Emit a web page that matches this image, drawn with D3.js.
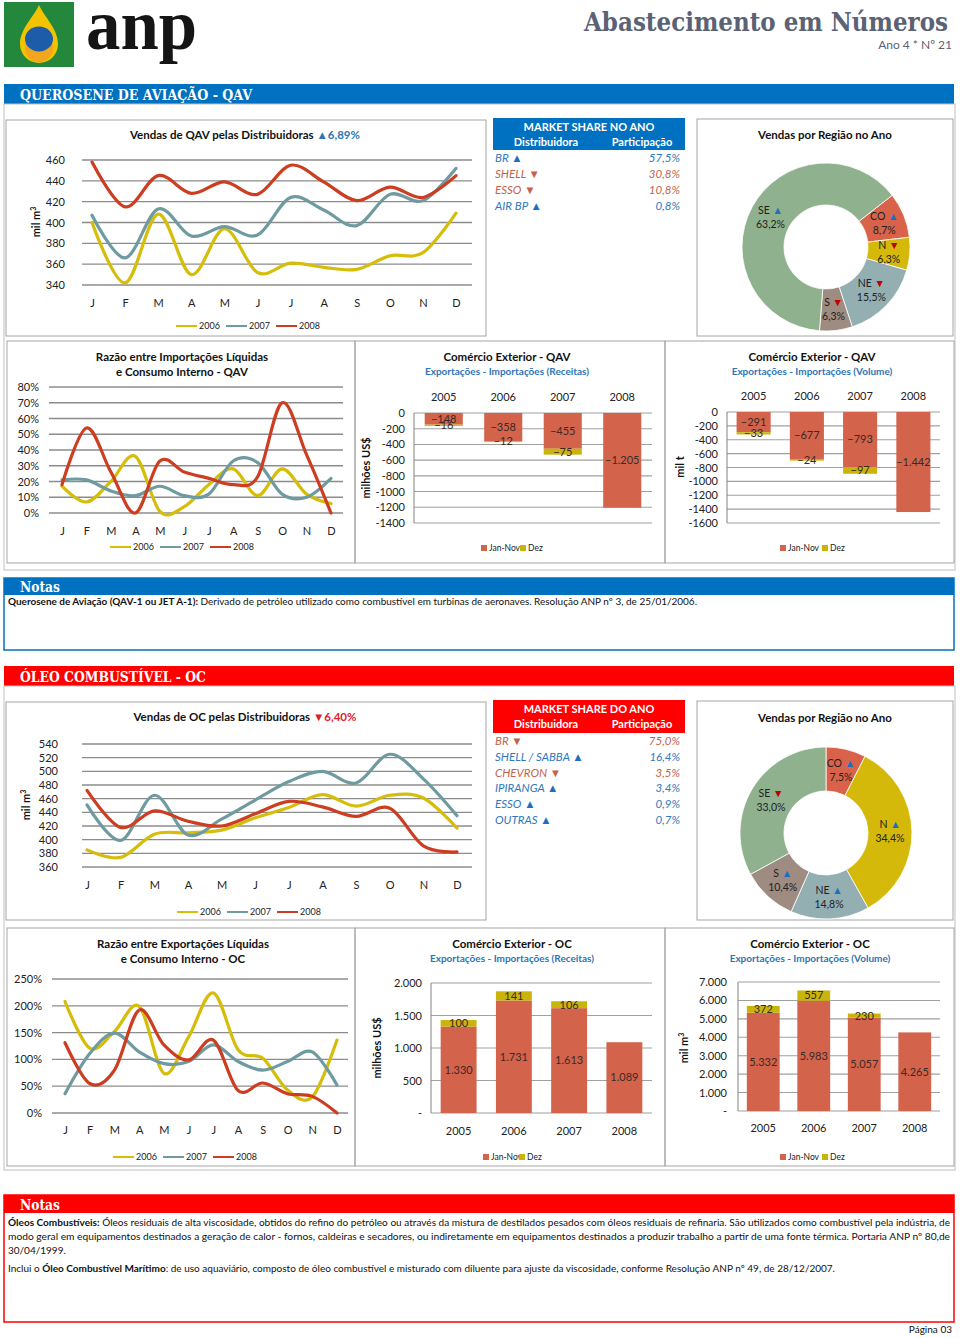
<!DOCTYPE html>
<html><head><meta charset="utf-8">
<script src="https://cdn.jsdelivr.net/npm/d3@7"></script>
<style>body{margin:0;background:#fff;}</style>
</head><body>
<svg id="c" width="960" height="1338" xmlns="http://www.w3.org/2000/svg"></svg>
<script>
// ---------------- DATA ----------------
const months = ["J","F","M","A","M","J","J","A","S","O","N","D"];
const seriesYears = ["2006","2007","2008"];
const barYearsQAV = ["2005","2006","2007","2008"];
const barYearsOC = ["2005","2006","2007","2008"];

// QAV sales (mil m3)
const qavSales2006 = [400,342,408,350,394,352,361,357,355,368,371,409];
const qavSales2007 = [407,366,413,387,396,388,424,412,397,427,421,452];
const qavSales2008 = [458,415,445,428,439,427,455,439,421,434,424,445];
const qavSalesTicks = [340,360,380,400,420,440,460];
const qavSalesTickLabels = ["340","360","380","400","420","440","460"];

// QAV market share
const qavShareNames = ["BR","SHELL","ESSO","AIR BP"];
const qavShareValues = ["57,5%","30,8%","10,8%","0,8%"];
const qavShareTrend = ["up","down","down","up"];

// QAV regions
const qavRegions = ["CO","N","NE","S","SE"];
const qavRegionShare = [8.7,6.3,15.5,6.3,63.2];
const qavRegionLabels = ["8,7%","6,3%","15,5%","6,3%","63,2%"];
const qavRegionTrend = ["up","down","down","down","up"];

// QAV ratio imports / consumption (%)
const qavRatio2006 = [17,7,20,36,1,4,18,28,11,28,12,6];
const qavRatio2007 = [21,21,14,11,17,11,12,33,32,12,10,22];
const qavRatio2008 = [18,54,26,0,33,26,22,18,23,70,37,0];
const qavRatioTicks = [0,10,20,30,40,50,60,70,80];
const qavRatioTickLabels = ["0%","10%","20%","30%","40%","50%","60%","70%","80%"];

// QAV foreign trade
const qavRevJanNov = [-148,-358,-455,-1205];
const qavRevDez = [-16,-12,-75,null];
const qavRevTicks = [0,-200,-400,-600,-800,-1000,-1200,-1400];
const qavRevTickLabels = ["0","-200","-400","-600","-800","-1000","-1200","-1400"];
const qavVolJanNov = [-291,-677,-793,-1442];
const qavVolDez = [-33,-24,-97,null];
const qavVolTicks = [0,-200,-400,-600,-800,-1000,-1200,-1400,-1600];
const qavVolTickLabels = ["0","-200","-400","-600","-800","-1000","-1200","-1400","-1600"];

// OC sales
const ocSales2006 = [385,374,408,410,414,432,447,466,449,465,461,417];
const ocSales2007 = [451,399,465,407,430,458,485,500,483,525,489,435];
const ocSales2008 = [472,418,442,427,420,438,456,448,434,446,391,382];
const ocSalesTicks = [360,380,400,420,440,460,480,500,520,540];
const ocSalesTickLabels = ["360","380","400","420","440","460","480","500","520","540"];

// OC market share
const ocShareNames = ["BR","SHELL / SABBA","CHEVRON","IPIRANGA","ESSO","OUTRAS"];
const ocShareValues = ["75,0%","16,4%","3,5%","3,4%","0,9%","0,7%"];
const ocShareTrend = ["down","up","down","up","up","up"];

// OC regions
const ocRegions = ["CO","N","NE","S","SE"];
const ocRegionShare = [7.5,34.4,14.8,10.4,33.0];
const ocRegionLabels = ["7,5%","34,4%","14,8%","10,4%","33,0%"];
const ocRegionTrend = ["up","up","up","up","down"];

// OC ratio exports / consumption (%)
const ocRatio2006 = [208,121,152,199,74,142,224,118,102,43,30,136];
const ocRatio2007 = [36,111,149,114,92,96,127,96,80,96,114,52];
const ocRatio2008 = [131,55,80,192,127,99,136,42,56,36,31,0];
const ocRatioTicks = [0,50,100,150,200,250];
const ocRatioTickLabels = ["0%","50%","100%","150%","200%","250%"];

// OC foreign trade
const ocRevJanNov = [1330,1731,1613,1089];
const ocRevDez = [100,141,106,null];
const ocRevTicks = [0,500,1000,1500,2000];
const ocRevTickLabels = ["-","500","1.000","1.500","2.000"];
const ocVolJanNov = [5332,5983,5057,4265];
const ocVolDez = [372,557,230,null];
const ocVolTicks = [0,1000,2000,3000,4000,5000,6000,7000];
const ocVolTickLabels = ["-","1.000","2.000","3.000","4.000","5.000","6.000","7.000"];

// ---------------- STYLE ----------------
const F = "Lato, 'Open Sans', sans-serif";
const SERIF = "'DejaVu Serif Condensed', 'Liberation Serif', serif";
const C06 = "#d5bd0a", C07 = "#6f9ba0", C08 = "#cc3d21";
const CJAN = "#d3634b", CDEZ = "#c9b40a";
const BLUE = "#0070c0", RED = "#ff0000";
const UPC = "#1f6fc0", DNC = "#c00000";
const regionColors = {SE:"#8fb18d", CO:"#d9634a", N:"#d4b90a", NE:"#93afb2", S:"#9e8b81"};
const nf = d3.formatLocale({decimal:",", thousands:".", grouping:[3], currency:["",""]}).format(",d");

const svg = d3.select("#c");
svg.append("rect").attr("width",960).attr("height",1338).attr("fill","#fff");

// ---------------- HEADER ----------------
const logo = svg.append("g");
logo.append("rect").attr("x",4).attr("y",2).attr("width",70).attr("height",65).attr("fill","#23883c");
logo.append("path").attr("d","M39,5 C45,18 58,29 58,44 A19,19 0 1 1 20,44 C20,29 33,18 39,5 Z").attr("fill","#f3c300");
logo.append("circle").attr("cx",39).attr("cy",48).attr("r",14).attr("fill","#f2a51d");
logo.append("ellipse").attr("cx",39).attr("cy",39).attr("rx",14).attr("ry",12.5).attr("fill","#1d5ca8");
svg.append("text").attr("x",86).attr("y",49).attr("font-family","'Liberation Serif', serif").attr("font-size",72)
  .attr("font-weight","bold").attr("textLength",111).attr("lengthAdjust","spacingAndGlyphs").attr("fill","#151515").text("anp");
svg.append("text").attr("x",948).attr("y",31).attr("text-anchor","end").attr("font-family",SERIF).attr("font-size",26)
  .attr("font-weight","bold").attr("textLength",364).attr("lengthAdjust","spacingAndGlyphs").attr("fill","#5b6275").text("Abastecimento em Números");
svg.append("text").attr("x",952).attr("y",49).attr("text-anchor","end").attr("font-family",F).attr("font-size",12)
  .attr("fill","#5b6275").text("Ano 4 * Nº 21");

function band(y,h,fill,label,len){
  svg.append("rect").attr("x",4).attr("y",y).attr("width",950).attr("height",h).attr("fill",fill);
  svg.append("text").attr("x",20).attr("y",y+h-4).attr("fill","#fff").attr("font-family",SERIF).attr("font-size",15)
    .attr("font-weight","bold").attr("textLength",len).attr("lengthAdjust","spacingAndGlyphs").text(label);
}
function frame(x,y,w,h,stroke,sw){
  svg.append("rect").attr("x",x).attr("y",y).attr("width",w).attr("height",h).attr("fill","none")
    .attr("stroke",stroke||"#a6a6a6").attr("stroke-width",sw||1);
}

// ---------------- GENERIC CHARTS ----------------
function tri(sel, trend){
  sel.append("tspan").attr("fill", trend==="up"?UPC:DNC).text(trend==="up"?" ▲":" ▼");
}
function lineChart(o){
  const g = svg.append("g");
  const x = d3.scalePoint().domain(d3.range(months.length)).range(o.xr);
  const y = d3.scaleLinear().domain(o.domain).range(o.yr);
  g.selectAll(".grid").data(o.ticks).join("line")
    .attr("x1",o.gx[0]).attr("x2",o.gx[1]).attr("y1",d=>y(d)).attr("y2",d=>y(d))
    .attr("stroke","#8c8c8c").attr("stroke-width",1.3);
  const ya = g.append("g").attr("transform",`translate(${o.labelX},0)`)
    .call(d3.axisLeft(y).tickValues(o.ticks).tickSize(0).tickPadding(0).tickFormat((d,i)=>o.tickLabels[i]));
  ya.select(".domain").remove();
  ya.attr("font-family",F).attr("font-size",11);
  ya.selectAll("text").attr("fill","#222");
  const xa = g.append("g").attr("transform",`translate(0,${o.monthY})`)
    .call(d3.axisBottom(x).tickSize(0).tickPadding(0).tickFormat(i=>months[i]));
  xa.select(".domain").remove();
  xa.attr("font-family",F).attr("font-size",11);
  xa.selectAll("text").attr("fill","#222").attr("dy","0.35em");
  const line = d3.line().x((d,i)=>x(i)).y(d=>y(d)).curve(d3.curveCardinal.tension(0));
  o.series.forEach(s=>{
    g.append("path").attr("d",line(s.values)).attr("fill","none").attr("stroke",s.color)
      .attr("stroke-width",3.2).attr("stroke-linecap","round").attr("stroke-linejoin","round");
  });
  o.series.forEach((s,i)=>{
    const lx = o.legend[0] + i*50;
    g.append("line").attr("x1",lx).attr("x2",lx+21).attr("y1",o.legend[1]).attr("y2",o.legend[1])
      .attr("stroke",s.color).attr("stroke-width",2);
    g.append("text").attr("x",lx+23).attr("y",o.legend[1]).attr("dy","0.35em").attr("font-family",F)
      .attr("font-size",9).attr("fill","#222").text(s.name);
  });
  o.title.forEach((t,i)=>{
    const tt = g.append("text").attr("x",o.titleX).attr("y",o.titleY+i*15).attr("text-anchor","middle")
      .attr("font-family",F).attr("font-size",11.5).attr("font-weight","bold").attr("fill","#111").text(t);
    if(i===0 && o.titleTrend){
      tt.append("tspan").attr("fill",o.titleTrend.color).text(" " + o.titleTrend.text);
    }
  });
  if(o.yLabel){
    g.append("text").attr("transform",`translate(${o.yLabel[0]},${o.yLabel[1]}) rotate(-90)`).attr("text-anchor","middle")
      .attr("dy","0.35em").attr("font-family",F).attr("font-size",11).attr("font-weight","bold").attr("fill","#111")
      .html(o.yLabel[2]);
  }
}

function barChart(o){
  const g = svg.append("g");
  const x = d3.scaleBand().domain(o.years).range(o.xr).paddingInner(o.pad).paddingOuter(o.pad/2);
  const y = d3.scaleLinear().domain(o.domain).range(o.yr);
  g.selectAll(".grid").data(o.ticks).join("line")
    .attr("x1",o.xr[0]).attr("x2",o.xr[1]).attr("y1",d=>y(d)).attr("y2",d=>y(d))
    .attr("stroke","#a0a0a0").attr("stroke-width",1.1);
  g.append("line").attr("x1",o.xr[0]).attr("x2",o.xr[0]).attr("y1",y(o.domain[0])).attr("y2",y(o.domain[1]))
    .attr("stroke","#8c8c8c").attr("stroke-width",1.1);
  const ya = g.append("g").attr("transform",`translate(${o.labelX},0)`)
    .call(d3.axisLeft(y).tickValues(o.ticks).tickSize(0).tickPadding(0).tickFormat((d,i)=>o.tickLabels[i]));
  ya.select(".domain").remove();
  ya.attr("font-family",F).attr("font-size",11);
  ya.selectAll("text").attr("fill","#222");
  const xa = g.append("g").attr("transform",`translate(0,${o.yearY})`)
    .call(d3.axisBottom(x).tickSize(0).tickPadding(0));
  xa.select(".domain").remove();
  xa.attr("font-family",F).attr("font-size",11);
  xa.selectAll("text").attr("fill","#222").attr("dy","0.35em");
  const rows = o.years.map((yr,i)=>({year:yr, janNov:o.janNov[i], dez:o.dez[i]===null?0:o.dez[i], hasDez:o.dez[i]!==null}));
  const st = d3.stack().keys(["janNov","dez"]).offset(d3.stackOffsetDiverging)(rows);
  const cols = [CJAN, CDEZ];
  st.forEach((layer,li)=>{
    g.selectAll(null).data(layer.filter(d=>d[1]!==d[0])).join("rect")
      .attr("x",d=>x(d.data.year)).attr("width",x.bandwidth())
      .attr("y",d=>Math.min(y(d[0]),y(d[1]))).attr("height",d=>Math.abs(y(d[0])-y(d[1])))
      .attr("fill",cols[li]);
  });
  st.forEach((layer,li)=>{
    g.selectAll(null).data(layer.filter(d=>li===0 || d.data.hasDez)).join("text")
      .attr("x",d=>x(d.data.year)+x.bandwidth()/2).attr("y",d=>(y(d[0])+y(d[1]))/2).attr("dy","0.35em")
      .attr("text-anchor","middle").attr("font-family",F).attr("font-size",11).attr("fill","#3b2a25")
      .text(d=>nf(li===0?d.data.janNov:d.data.dez));
  });
  g.append("text").attr("x",o.titleX).attr("y",o.titleY).attr("text-anchor","middle").attr("font-family",F)
    .attr("font-size",11.5).attr("font-weight","bold").attr("fill","#111").text(o.title);
  g.append("text").attr("x",o.titleX).attr("y",o.titleY+14).attr("text-anchor","middle").attr("font-family",F)
    .attr("font-size",10).attr("font-weight","bold").attr("fill","#2e75b6").text(o.subtitle);
  g.append("text").attr("transform",`translate(${o.yLabel[0]},${o.yLabel[1]}) rotate(-90)`).attr("text-anchor","middle")
    .attr("dy","0.35em").attr("font-family",F).attr("font-size",11).attr("font-weight","bold").attr("fill","#111")
    .html(o.yLabel[2]);
  [["Jan-Nov",CJAN,0],["Dez",CDEZ,o.legend[2]]].forEach(([t,c,dx])=>{
    g.append("rect").attr("x",o.legend[0]+dx).attr("y",o.legend[1]-3).attr("width",6).attr("height",6).attr("fill",c);
    g.append("text").attr("x",o.legend[0]+dx+8).attr("y",o.legend[1]).attr("dy","0.35em").attr("font-family",F)
      .attr("font-size",8.5).attr("fill","#222").text(t);
  });
}

function shareTable(o){
  const g = svg.append("g");
  g.append("rect").attr("x",493).attr("y",o.y).attr("width",192).attr("height",o.h).attr("fill",o.fill);
  g.append("text").attr("x",589).attr("y",o.y+13).attr("text-anchor","middle").attr("font-family",F).attr("font-size",11)
    .attr("font-weight","bold").attr("fill","#fff").text(o.title);
  g.append("text").attr("x",546).attr("y",o.y+28).attr("text-anchor","middle").attr("font-family",F).attr("font-size",11)
    .attr("font-weight","bold").attr("fill","#fff").text("Distribuidora");
  g.append("text").attr("x",642).attr("y",o.y+28).attr("text-anchor","middle").attr("font-family",F).attr("font-size",11)
    .attr("font-weight","bold").attr("fill","#fff").text("Participação");
  o.names.forEach((n,i)=>{
    const col = o.trend[i]==="up" ? "#2f78bd" : "#c4634d";
    const yy = o.rowY + i*o.step;
    const t = g.append("text").attr("x",495).attr("y",yy).attr("font-family",F).attr("font-size",11.5)
      .attr("font-style","italic").attr("fill",col).text(n + " ");
    t.append("tspan").attr("font-style","normal").attr("fill", o.trend[i]==="up"?"#1f6fc0":"#c4634d").text(o.trend[i]==="up"?"▲":"▼");
    g.append("text").attr("x",680).attr("y",yy).attr("text-anchor","end").attr("font-family",F).attr("font-size",11.5)
      .attr("font-style","italic").attr("fill",col).text(o.values[i]);
  });
}

function donut(o){
  const g = svg.append("g").attr("transform",`translate(${o.cx},${o.cy})`);
  const data = o.regions.map((r,i)=>({r, v:o.values[i], label:o.labels[i], trend:o.trend[i]}));
  const pie = d3.pie().sort(null).value(d=>d.v).startAngle(o.start*Math.PI/180).endAngle(o.start*Math.PI/180+2*Math.PI);
  const arc = d3.arc().innerRadius(o.ir).outerRadius(o.r);
  const arcs = pie(data);
  g.selectAll("path").data(arcs).join("path").attr("d",arc).attr("fill",d=>regionColors[d.data.r])
    .attr("stroke","#fff").attr("stroke-width",0.8);
  arcs.forEach(d=>{
    const [lx,ly] = arc.centroid(d);
    const t = g.append("text").attr("x",lx).attr("y",ly-7).attr("dy","0.35em").attr("text-anchor","middle")
      .attr("font-family",F).attr("font-size",10.5).attr("fill","#222").text(d.data.r);
    tri(t, d.data.trend);
    g.append("text").attr("x",lx).attr("y",ly+7).attr("dy","0.35em").attr("text-anchor","middle")
      .attr("font-family",F).attr("font-size",10.5).attr("fill","#222").text(d.data.label);
  });
  svg.append("text").attr("x",o.cx-1).attr("y",o.titleY).attr("text-anchor","middle").attr("font-family",F)
    .attr("font-size",11.5).attr("font-weight","bold").attr("fill","#111").text("Vendas por Região no Ano");
}

// ---------------- QAV SECTION ----------------
band(84,20,BLUE,"QUEROSENE DE AVIAÇÃO - QAV",232);
frame(4,104,951,466,"#bfbfbf",1);
frame(6,120,480,216);
frame(697,119,256,217);
frame(7,341,348,222);
frame(355,341,310,222);
frame(665,341,289,222);

lineChart({
  xr:[92,456], gx:[82,472], domain:[340,460], yr:[285,160], ticks:qavSalesTicks, tickLabels:qavSalesTickLabels,
  labelX:65, monthY:303,
  series:[{name:seriesYears[0],values:qavSales2006,color:C06},{name:seriesYears[1],values:qavSales2007,color:C07},{name:seriesYears[2],values:qavSales2008,color:C08}],
  legend:[176,326], title:["Vendas de QAV pelas Distribuidoras"], titleX:245, titleY:139,
  titleTrend:{text:"▲6,89%", color:"#2e75b6"}, yLabel:[36,222,"mil m<tspan dy='-4' font-size='7'>3</tspan>"]
});
shareTable({y:118,h:32,fill:BLUE,title:"MARKET SHARE NO ANO",names:qavShareNames,values:qavShareValues,trend:qavShareTrend,rowY:162,step:16});
donut({cx:826,cy:247,r:84,ir:42,start:52,regions:qavRegions,values:qavRegionShare,labels:qavRegionLabels,trend:qavRegionTrend,titleY:139});

lineChart({
  xr:[62,331], gx:[49,343], domain:[0,80], yr:[513,387], ticks:qavRatioTicks, tickLabels:qavRatioTickLabels,
  labelX:39, monthY:531,
  series:[{name:seriesYears[0],values:qavRatio2006,color:C06},{name:seriesYears[1],values:qavRatio2007,color:C07},{name:seriesYears[2],values:qavRatio2008,color:C08}],
  legend:[110,547], title:["Razão entre Importações Líquidas","e Consumo Interno - QAV"], titleX:182, titleY:361
});
barChart({
  years:barYearsQAV, xr:[414,652], pad:0.36, domain:[-1400,0], yr:[523,413], ticks:qavRevTicks, tickLabels:qavRevTickLabels,
  labelX:405, yearY:397, janNov:qavRevJanNov, dez:qavRevDez,
  title:"Comércio Exterior - QAV", subtitle:"Exportações - Importações (Receitas)", titleX:507, titleY:361,
  yLabel:[366,468,"milhões US$"], legend:[481,548,39]
});
barChart({
  years:barYearsQAV, xr:[727,940], pad:0.36, domain:[-1600,0], yr:[523,412], ticks:qavVolTicks, tickLabels:qavVolTickLabels,
  labelX:718, yearY:396, janNov:qavVolJanNov, dez:qavVolDez,
  title:"Comércio Exterior - QAV", subtitle:"Exportações - Importações (Volume)", titleX:812, titleY:361,
  yLabel:[680,467,"mil t"], legend:[780,548,42]
});

// Notes QAV
svg.append("rect").attr("x",4).attr("y",578).attr("width",950).attr("height",17).attr("fill",BLUE);
frame(4,578,950,72,BLUE,1.5);
svg.append("text").attr("x",20).attr("y",592).attr("fill","#fff").attr("font-family",SERIF).attr("font-size",15)
  .attr("font-weight","bold").attr("textLength",40).attr("lengthAdjust","spacingAndGlyphs").text("Notas");
{
  const t = svg.append("text").attr("x",8).attr("y",605).attr("font-family",F).attr("font-size",10).attr("fill","#111")
    .attr("textLength",689).attr("lengthAdjust","spacingAndGlyphs");
  t.append("tspan").attr("font-weight","bold").text("Querosene de Aviação (QAV-1 ou JET A-1):");
  t.append("tspan").text(" Derivado de petróleo utilizado como combustível em turbinas de aeronaves. Resolução ANP nº 3, de 25/01/2006.");
}

// ---------------- OC SECTION ----------------
band(666,20,RED,"ÓLEO COMBUSTÍVEL - OC",186);
frame(4,686,951,484,"#bfbfbf",1);
frame(6,702,480,218);
frame(697,701,256,219);
frame(7,928,348,238);
frame(355,928,310,238);
frame(665,928,289,238);

lineChart({
  xr:[87,457], gx:[82,472], domain:[360,540], yr:[867,744], ticks:ocSalesTicks, tickLabels:ocSalesTickLabels,
  labelX:58, monthY:885,
  series:[{name:seriesYears[0],values:ocSales2006,color:C06},{name:seriesYears[1],values:ocSales2007,color:C07},{name:seriesYears[2],values:ocSales2008,color:C08}],
  legend:[177,912], title:["Vendas de OC pelas Distribuidoras"], titleX:245, titleY:721,
  titleTrend:{text:"▼6,40%", color:"#e0202a"}, yLabel:[26,805,"mil m<tspan dy='-4' font-size='7'>3</tspan>"]
});
shareTable({y:700,h:33,fill:RED,title:"MARKET SHARE DO ANO",names:ocShareNames,values:ocShareValues,trend:ocShareTrend,rowY:745,step:15.8});
donut({cx:826,cy:833,r:86,ir:42,start:0,regions:ocRegions,values:ocRegionShare,labels:ocRegionLabels,trend:ocRegionTrend,titleY:722});

lineChart({
  xr:[65,337], gx:[52,348], domain:[0,250], yr:[1113,979], ticks:ocRatioTicks, tickLabels:ocRatioTickLabels,
  labelX:42, monthY:1130,
  series:[{name:seriesYears[0],values:ocRatio2006,color:C06},{name:seriesYears[1],values:ocRatio2007,color:C07},{name:seriesYears[2],values:ocRatio2008,color:C08}],
  legend:[113,1157], title:["Razão entre Exportações Líquidas","e Consumo Interno - OC"], titleX:183, titleY:948
});
barChart({
  years:barYearsOC, xr:[431,652], pad:0.35, domain:[0,2000], yr:[1113,983], ticks:ocRevTicks, tickLabels:ocRevTickLabels,
  labelX:422, yearY:1131, janNov:ocRevJanNov, dez:ocRevDez,
  title:"Comércio Exterior - OC", subtitle:"Exportações - Importações (Receitas)", titleX:512, titleY:948,
  yLabel:[377,1048,"milhões US$"], legend:[483,1157,36]
});
barChart({
  years:barYearsOC, xr:[738,940], pad:0.35, domain:[0,7000], yr:[1111,982], ticks:ocVolTicks, tickLabels:ocVolTickLabels,
  labelX:727, yearY:1128, janNov:ocVolJanNov, dez:ocVolDez,
  title:"Comércio Exterior - OC", subtitle:"Exportações - Importações (Volume)", titleX:810, titleY:948,
  yLabel:[684,1048,"mil m<tspan dy='-4' font-size='7'>3</tspan>"], legend:[780,1157,42]
});

// Notes OC
svg.append("rect").attr("x",4).attr("y",1195).attr("width",950).attr("height",18).attr("fill",RED);
frame(4,1195,950,127,RED,1.5);
svg.append("text").attr("x",20).attr("y",1210).attr("fill","#fff").attr("font-family",SERIF).attr("font-size",15)
  .attr("font-weight","bold").attr("textLength",40).attr("lengthAdjust","spacingAndGlyphs").text("Notas");
{
  const t1 = svg.append("text").attr("x",8).attr("y",1226).attr("font-family",F).attr("font-size",10).attr("fill","#111")
    .attr("textLength",942).attr("lengthAdjust","spacingAndGlyphs");
  t1.append("tspan").attr("font-weight","bold").text("Óleos Combustíveis:");
  t1.append("tspan").text(" Óleos residuais de alta viscosidade, obtidos do refino do petróleo ou através da mistura de destilados pesados com óleos residuais de refinaria. São utilizados como combustível pela indústria, de");
  svg.append("text").attr("x",8).attr("y",1240).attr("font-family",F).attr("font-size",10).attr("fill","#111")
    .attr("textLength",942).attr("lengthAdjust","spacingAndGlyphs")
    .text("modo geral em equipamentos destinados a geração de calor - fornos, caldeiras e secadores, ou indiretamente em equipamentos destinados a produzir trabalho a partir de uma fonte térmica. Portaria ANP nº 80,de");
  svg.append("text").attr("x",8).attr("y",1254).attr("font-family",F).attr("font-size",10).attr("fill","#111")
    .text("30/04/1999.");
  const t4 = svg.append("text").attr("x",8).attr("y",1272).attr("font-family",F).attr("font-size",10).attr("fill","#111")
    .attr("textLength",827).attr("lengthAdjust","spacingAndGlyphs");
  t4.append("tspan").text("Inclui o ");
  t4.append("tspan").attr("font-weight","bold").text("Óleo Combustível Marítimo");
  t4.append("tspan").text(": de uso aquaviário, composto de óleo combustível e misturado com diluente para ajuste da viscosidade, conforme Resolução ANP nº 49, de 28/12/2007.");
}
svg.append("text").attr("x",952).attr("y",1333).attr("text-anchor","end").attr("font-family",F).attr("font-size",10)
  .attr("fill","#111").text("Página 03");
</script>
</body></html>
